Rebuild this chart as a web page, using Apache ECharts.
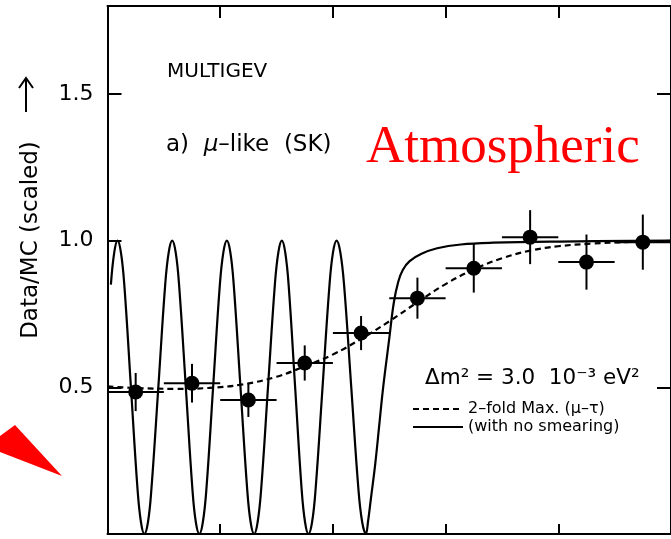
<!DOCTYPE html>
<html>
<head>
<meta charset="utf-8">
<script src="https://cdn.jsdelivr.net/npm/echarts@6/dist/echarts.min.js"></script>
<style>
html, body { margin: 0; padding: 0; background: #fff; }
#chart3 { width: 671px; height: 539px; }
</style>
</head>
<body>
<div id="chart3"></div>
<script>
// measured points (bin centres) with errors
var binCentre = [0.25, 0.75, 1.25, 1.75, 2.25, 2.75, 3.25, 3.75, 4.25, 4.75];
var binHalf = [0.25, 0.25, 0.25, 0.25, 0.25, 0.25, 0.25, 0.25, 0.25, 0.25];
var ratio = [0.484, 0.514, 0.457, 0.583, 0.685, 0.804, 0.906, 1.012, 0.927, 0.995];
var ratioErr = [0.065, 0.066, 0.058, 0.060, 0.058, 0.070, 0.083, 0.092, 0.094, 0.094];

// 2-fold maximal mixing, smeared (dashed)
var smearX = [0.0, 0.3, 0.6, 0.9, 1.2, 1.5, 1.75, 2.0, 2.25, 2.5, 2.75, 3.0, 3.25, 3.5, 3.75, 4.0, 4.3, 4.6, 5.0];
var smearY = [0.503, 0.497, 0.495, 0.498, 0.51, 0.536, 0.572, 0.612, 0.665, 0.725, 0.79, 0.852, 0.902, 0.94, 0.966, 0.981, 0.99, 0.995, 0.999];

// no smearing (solid)
var rawX = [0.03, 0.06, 0.089,
    0.119, 0.149, 0.208, 0.267, 0.297, 0.327,
    0.359, 0.389, 0.451, 0.512, 0.543, 0.574,
    0.605, 0.635, 0.695, 0.754, 0.784, 0.815,
    0.846, 0.877, 0.937, 0.997, 1.028, 1.059,
    1.090, 1.120, 1.180, 1.240, 1.270, 1.301,
    1.332, 1.363, 1.424, 1.485, 1.516, 1.547,
    1.577, 1.607, 1.665, 1.723, 1.753, 1.783,
    1.815, 1.846, 1.908, 1.970, 2.001, 2.033,
    2.066, 2.099, 2.163, 2.227, 2.260, 2.293,
    2.311, 2.337, 2.376, 2.411, 2.446, 2.498, 2.541, 2.58, 2.620, 2.681,
    2.786, 2.925, 3.135, 3.422, 4.006, 5.0];
var rawY = [0.85, 0.96, 1.0,
    0.96, 0.85, 0.5, 0.15, 0.04, 0,
    0.04, 0.15, 0.5, 0.85, 0.96, 1,
    0.96, 0.85, 0.5, 0.15, 0.04, 0,
    0.04, 0.15, 0.5, 0.85, 0.96, 1,
    0.96, 0.85, 0.5, 0.15, 0.04, 0,
    0.04, 0.15, 0.5, 0.85, 0.96, 1,
    0.96, 0.85, 0.5, 0.15, 0.04, 0,
    0.04, 0.15, 0.5, 0.85, 0.96, 1,
    0.96, 0.85, 0.5, 0.15, 0.04, 0,
    0.04, 0.12, 0.24, 0.37, 0.5, 0.66, 0.79, 0.86, 0.90, 0.93,
    0.955, 0.974, 0.987, 0.993, 0.997, 1.0];

var yTicks = [0.5, 1.0, 1.5];

var font = "'DejaVu Sans', sans-serif";
var nameSmear = '2\u2013fold Max. (\u03bc\u2013\u03c4)';
var nameRaw = '(with no smearing)';

var pts = binCentre.map(function (x, i) { return [x, ratio[i]]; });
var errs = binCentre.map(function (x, i) { return [x, ratio[i], binHalf[i], ratioErr[i]]; });
var smear = smearX.map(function (x, i) { return [x, smearY[i]]; });
var raw = rawX.map(function (x, i) { return [x, rawY[i]]; });

var mychart = echarts.init(document.getElementById('chart3'));
var axisLine = { show: true, onZero: false, lineStyle: { color: '#000', width: 2 } };
var option = {
    animation: false,
    backgroundColor: '#fff',
    grid: { left: 107.5, right: -10, top: 6, bottom: 5 },
    legend: {
        data: [nameSmear, nameRaw],
        orient: 'vertical',
        left: 407,
        top: 396,
        itemWidth: 50,
        itemHeight: 14,
        itemGap: 2,
        itemStyle: { opacity: 0 },
        textStyle: { color: '#000', fontSize: 16, fontFamily: font }
    },
    xAxis: [
        {
            type: 'value', position: 'bottom', min: 0, max: 5, interval: 1,
            axisLine: axisLine,
            axisTick: { inside: true, length: 10, lineStyle: { color: '#000', width: 2 } },
            axisLabel: { show: false },
            splitLine: { show: false }
        },
        {
            type: 'value', position: 'top', min: 0, max: 5, interval: 1,
            axisLine: axisLine,
            axisTick: { inside: true, length: 12, lineStyle: { color: '#000', width: 2 } },
            axisLabel: { show: false },
            splitLine: { show: false }
        }
    ],
    yAxis: [
        {
            type: 'value', position: 'left', min: 0, max: 1.8, interval: 0.5,
            axisLine: axisLine,
            axisTick: { inside: true, length: 14, lineStyle: { color: '#000', width: 2 } },
            axisLabel: {
                color: '#000', fontSize: 22, fontFamily: font, margin: 14,
                formatter: function (v) { return yTicks.indexOf(v) >= 0 ? v.toFixed(1) : ''; }
            },
            splitLine: { show: false }
        },
        {
            type: 'value', position: 'right', min: 0, max: 1.8, interval: 0.5,
            axisLine: axisLine,
            axisTick: { inside: true, length: 14, lineStyle: { color: '#000', width: 2 } },
            axisLabel: { show: false },
            splitLine: { show: false }
        }
    ],
    graphic: [
        { type: 'text', left: 167, top: 62, style: { text: 'MULTIGEV', font: '20px ' + font, fill: '#000' } },
        {
            type: 'text', left: 166, top: 134,
            style: {
                text: 'a)  {i|\u03bc}\u2013like  (SK)', font: '23px ' + font, fill: '#000',
                rich: { i: { fontStyle: 'italic', fontSize: 23, fontFamily: font } }
            }
        },
        { type: 'text', left: 366, top: 122, style: { text: 'Atmospheric', font: '53px "Liberation Serif", serif', fill: '#ff0000' } },
        { type: 'text', left: 425, top: 367, style: { text: '\u0394m\u00b2 = 3.0  10\u207b\u00b3 eV\u00b2', font: '21.5px ' + font, fill: '#000' } },
        {
            type: 'text', x: 31, y: 240, rotation: Math.PI / 2,
            style: { text: 'Data/MC (scaled)', font: '23px ' + font, fill: '#000', align: 'center', verticalAlign: 'middle' }
        },
        { type: 'line', shape: { x1: 26, y1: 112, x2: 26, y2: 79 }, style: { stroke: '#000', lineWidth: 2 } },
        { type: 'polyline', shape: { points: [[19, 88], [26, 78], [33, 88]] }, style: { stroke: '#000', lineWidth: 2, fill: null } },
        { type: 'polygon', shape: { points: [[15, 425], [62, 476], [0, 452], [0, 436]] }, style: { fill: '#ff0000' } }
    ],
    series: [
        {
            name: nameSmear,
            type: 'line',
            data: smear,
            smooth: 0.4,
            showSymbol: false,
            symbol: 'none',
            lineStyle: { color: '#000', width: 2.2, type: [6, 4] },
            itemStyle: { color: '#000' },
            z: 3
        },
        {
            name: nameRaw,
            type: 'line',
            data: raw,
            smooth: 0.4,
            showSymbol: false,
            symbol: 'none',
            lineStyle: { color: '#000', width: 2.2 },
            itemStyle: { color: '#000' },
            z: 3
        },
        {
            name: 'err',
            type: 'custom',
            data: errs,
            renderItem: function (params, api) {
                var x = api.value(0), y = api.value(1), ex = api.value(2), ey = api.value(3);
                var l = api.coord([x - ex, y]), r = api.coord([x + ex, y]);
                var t = api.coord([x, y + ey]), b = api.coord([x, y - ey]);
                var st = { stroke: '#000', lineWidth: 2 };
                return {
                    type: 'group',
                    children: [
                        { type: 'line', shape: { x1: l[0], y1: l[1], x2: r[0], y2: r[1] }, style: st },
                        { type: 'line', shape: { x1: t[0], y1: t[1], x2: b[0], y2: b[1] }, style: st }
                    ]
                };
            },
            z: 4
        },
        {
            name: 'data',
            type: 'scatter',
            data: pts,
            symbolSize: 15,
            itemStyle: { color: '#000', opacity: 1 },
            z: 5
        }
    ]
};
mychart.setOption(option);
</script>
</body>
</html>
